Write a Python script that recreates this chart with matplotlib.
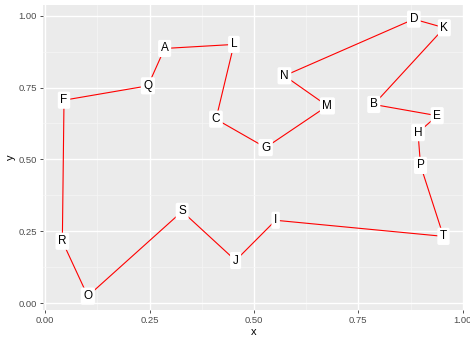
import numpy as np
import matplotlib.pyplot as plt

labels = list("ABCDEFGHIJKLMNOPQRST")
xs = [0.286, 0.787, 0.409, 0.883, 0.939, 0.045, 0.528, 0.893, 0.552, 0.456,
      0.956, 0.452, 0.676, 0.573, 0.102, 0.899, 0.246, 0.041, 0.328, 0.954]
ys = [0.886, 0.691, 0.640, 0.988, 0.652, 0.706, 0.541, 0.593, 0.288, 0.148,
      0.958, 0.900, 0.686, 0.791, 0.024, 0.479, 0.756, 0.215, 0.319, 0.232]
tour = list("FQALCGMNDKBEHPTIJSORF")

pos = {l: (x, y) for l, x, y in zip(labels, xs, ys)}
px = [pos[l][0] for l in tour]
py = [pos[l][1] for l in tour]

plt.rcParams['font.family'] = ['Liberation Sans', 'DejaVu Sans']
fig = plt.figure(figsize=(4.7, 3.42), dpi=100)
ax = fig.add_axes([0.092, 0.0936, 0.894, 0.8909])
ax.set_facecolor('#EBEBEB')

ax.plot(px, py, color='red', lw=0.8, zorder=2)
for l, x, y in zip(labels, xs, ys):
    ax.text(x, y, l, fontsize=8.5, ha='center', va='center', color='black', zorder=3,
            bbox=dict(boxstyle='round,pad=0.22,rounding_size=0.15', fc='white', ec='none'))

def lims(v):
    r = max(v) - min(v)
    return min(v) - 0.05 * r, max(v) + 0.05 * r

ax.set_xlim(*lims(xs))
ax.set_ylim(*lims(ys))
ticks = [0, 0.25, 0.5, 0.75, 1.0]
ax.set_xticks(ticks)
ax.set_yticks(ticks)
ax.set_xticklabels(['0.00', '0.25', '0.50', '0.75', '1.00'])
ax.set_yticklabels(['0.00', '0.25', '0.50', '0.75', '1.00'])
ax.set_xticks([0.125, 0.375, 0.625, 0.875], minor=True)
ax.set_yticks([0.125, 0.375, 0.625, 0.875], minor=True)
ax.grid(which='major', color='white', lw=1.0)
ax.grid(which='minor', color='#F6F6F6', lw=0.5)
ax.set_axisbelow(True)
for s in ax.spines.values():
    s.set_visible(False)
ax.tick_params(which='major', length=2.5, width=0.6, color='#333333',
               labelsize=6.8, labelcolor='#4D4D4D', pad=2)
ax.tick_params(which='minor', length=0)
ax.set_xlabel('x', fontsize=8, labelpad=1)
ax.set_ylabel('y', fontsize=8, labelpad=2)

fig.savefig('out.png', dpi=100)
